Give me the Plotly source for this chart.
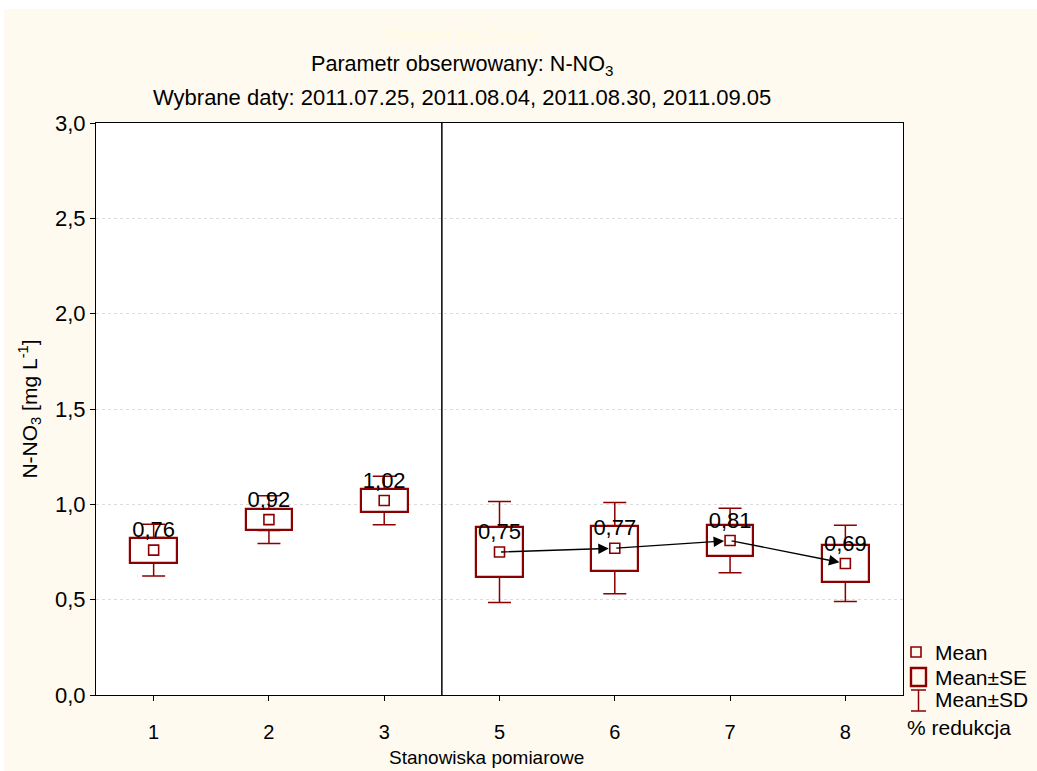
import plotly.graph_objects as go

# ---- data ----
categories = ["1", "2", "3", "5", "6", "7", "8"]
means = [0.76, 0.92, 1.02, 0.75, 0.77, 0.81, 0.69]
se = [0.066, 0.057, 0.060, 0.132, 0.118, 0.081, 0.097]
sd = [0.136, 0.125, 0.127, 0.265, 0.239, 0.169, 0.200]
reduction_path = ["5", "6", "7", "8"]  # groups joined by arrows

y_ticks = [0.0, 0.5, 1.0, 1.5, 2.0, 2.5, 3.0]

# ---- layout constants (pixels of the page) ----
W, H = 1037, 771
L, R, T, B = 96, 903, 123, 695
DARK = "#8B0000"
CREAM = "#FFFAF0"
FONT = "Arial, Liberation Sans, sans-serif"

def px(xp):
    return (xp - L) / (R - L)

def py(yp):
    return (B - yp) / (B - T)

pos = list(range(len(categories)))
lo_se = [m - s for m, s in zip(means, se)]
hi_se = [m + s for m, s in zip(means, se)]

fig = go.Figure()

# SE boxes
fig.add_trace(go.Bar(
    x=pos, y=[2 * s for s in se], base=lo_se, width=0.405,
    marker=dict(color="white", line=dict(color=DARK, width=2.2)),
    showlegend=False, hoverinfo="skip"))

# SD whiskers (upper and lower, starting at the box edges)
fig.add_trace(go.Scatter(
    x=pos, y=hi_se, mode="markers", marker=dict(size=0.1, opacity=0),
    error_y=dict(type="data", symmetric=False,
                 array=[d - s for d, s in zip(sd, se)],
                 arrayminus=[0] * len(se),
                 color=DARK, thickness=1.5, width=11.5),
    showlegend=False, hoverinfo="skip"))
fig.add_trace(go.Scatter(
    x=pos, y=lo_se, mode="markers", marker=dict(size=0.1, opacity=0),
    error_y=dict(type="data", symmetric=False,
                 array=[0] * len(se),
                 arrayminus=[d - s for d, s in zip(sd, se)],
                 color=DARK, thickness=1.5, width=11.5),
    showlegend=False, hoverinfo="skip"))

# Means with value labels
fig.add_trace(go.Scatter(
    x=pos, y=means, mode="markers+text",
    marker=dict(symbol="square", size=10, color="white",
                line=dict(color=DARK, width=1.6)),
    text=[f"{m:.2f}".replace(".", ",") for m in means],
    textposition="top center",
    textfont=dict(family=FONT, size=22, color="black"),
    showlegend=False, hoverinfo="skip"))

annotations = []
# reduction arrows between consecutive means
idx = [categories.index(c) for c in reduction_path]
for a, b in zip(idx[:-1], idx[1:]):
    annotations.append(dict(
        x=pos[b], y=means[b], ax=pos[a], ay=means[a],
        xref="x", yref="y", axref="x", ayref="y",
        text="", showarrow=True, arrowhead=2, arrowsize=1.5,
        arrowwidth=1.4, arrowcolor="black", standoff=6))

# titles
annotations.append(dict(x=px(462), y=py(35), xref="paper", yref="paper",
                        text="Boxplot by Group", showarrow=False,
                        font=dict(family=FONT, size=20, color="#FFFCE0"),
                        xanchor="center", yanchor="middle"))
annotations.append(dict(x=px(462), y=py(65), xref="paper", yref="paper",
                        text="Parametr obserwowany: N-NO<sub>3</sub>",
                        showarrow=False,
                        font=dict(family=FONT, size=21.6, color="black"),
                        xanchor="center", yanchor="middle"))
annotations.append(dict(x=px(462), y=py(97), xref="paper", yref="paper",
                        text="Wybrane daty: 2011.07.25, 2011.08.04, 2011.08.30, 2011.09.05",
                        showarrow=False,
                        font=dict(family=FONT, size=22, color="black"),
                        xanchor="center", yanchor="middle"))
# x axis title
annotations.append(dict(x=px(486), y=py(757), xref="paper", yref="paper",
                        text="Stanowiska pomiarowe", showarrow=False,
                        font=dict(family=FONT, size=19, color="black"),
                        xanchor="center", yanchor="middle"))

# legend texts
for label, yy in [("Mean", 652), ("Mean±SE", 677), ("Mean±SD", 699)]:
    annotations.append(dict(x=px(933), y=py(yy), xref="paper", yref="paper",
                            text=label, showarrow=False,
                            font=dict(family=FONT, size=21, color="black"),
                            xanchor="left", yanchor="middle"))
annotations.append(dict(x=px(905), y=py(727), xref="paper", yref="paper",
                        text="% redukcja", showarrow=False,
                        font=dict(family=FONT, size=21, color="black"),
                        xanchor="left", yanchor="middle"))

shapes = [
    # white strips at top and left edges of the page
    dict(type="rect", xref="paper", yref="paper", x0=px(0), x1=px(W),
         y0=py(9), y1=py(0), fillcolor="white", line=dict(width=0), layer="below"),
    dict(type="rect", xref="paper", yref="paper", x0=px(0), x1=px(4),
         y0=py(H), y1=py(0), fillcolor="white", line=dict(width=0), layer="below"),
    # divider between groups 3 and 5
    dict(type="line", xref="x", yref="paper", x0=2.5, x1=2.5, y0=0, y1=1,
         line=dict(color="black", width=1.5)),
    # legend symbols
    dict(type="rect", xref="paper", yref="paper", x0=px(911), x1=px(921),
         y0=py(657), y1=py(647), line=dict(color=DARK, width=1.6)),
    dict(type="rect", xref="paper", yref="paper", x0=px(911), x1=px(926),
         y0=py(686), y1=py(668), line=dict(color=DARK, width=2.4)),
    dict(type="line", xref="paper", yref="paper", x0=px(918.5), x1=px(918.5),
         y0=py(711), y1=py(690), line=dict(color=DARK, width=1.5)),
    dict(type="line", xref="paper", yref="paper", x0=px(911), x1=px(926),
         y0=py(690), y1=py(690), line=dict(color=DARK, width=1.5)),
    dict(type="line", xref="paper", yref="paper", x0=px(911), x1=px(926),
         y0=py(711), y1=py(711), line=dict(color=DARK, width=1.5)),
]

fig.update_layout(
    width=W, height=H,
    margin=dict(l=L, r=W - R, t=T, b=H - B, pad=0),
    paper_bgcolor=CREAM, plot_bgcolor="white",
    separators=", ",
    font=dict(family=FONT, color="black"),
    showlegend=False,
    bargap=0,
    annotations=annotations,
    shapes=shapes,
)
fig.update_xaxes(
    range=[-0.5, len(categories) - 0.5],
    tickmode="array", tickvals=pos, ticktext=categories,
    ticks="outside", ticklen=5, tickcolor="black",
    showline=True, linecolor="black", linewidth=1.2, mirror=True,
    showgrid=False, zeroline=False,
    tickfont=dict(family=FONT, size=20),
    ticklabelstandoff=14,
)
fig.update_yaxes(
    range=[0, 3], tickmode="array", tickvals=y_ticks, tickformat=".1f",
    ticks="outside", ticklen=5, tickcolor="black",
    showline=True, linecolor="black", linewidth=1.2, mirror=True,
    showgrid=True, gridcolor="#DCDCDC", griddash="dot", gridwidth=1,
    zeroline=False,
    tickfont=dict(family=FONT, size=22),
    title=dict(text="N-NO<sub>3</sub> [mg L<sup>-1</sup>]",
               font=dict(family=FONT, size=21), standoff=11),
)

fig.write_html("out.html")
